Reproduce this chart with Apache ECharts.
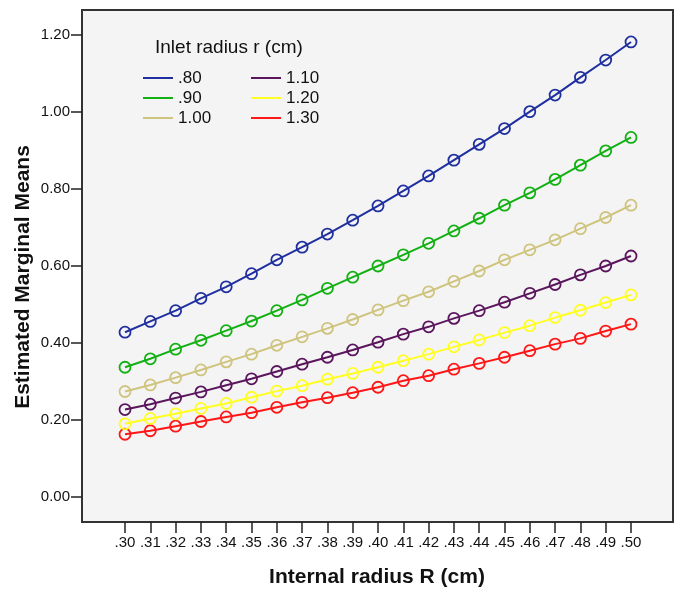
<!DOCTYPE html>
<html>
<head>
<meta charset="utf-8">
<script src="https://cdn.jsdelivr.net/npm/echarts@6/dist/echarts.min.js"></script>
<style>
html,body{margin:0;padding:0;background:#fff;}
#chart{width:678px;height:590px;}
</style>
</head>
<body>
<div id="chart"></div>
<script>
// Internal radius R (cm) categories
var xValues = [0.30,0.31,0.32,0.33,0.34,0.35,0.36,0.37,0.38,0.39,0.40,0.41,0.42,0.43,0.44,0.45,0.46,0.47,0.48,0.49,0.50];
var xTickLabels = ['.30','.31','.32','.33','.34','.35','.36','.37','.38','.39','.40','.41','.42','.43','.44','.45','.46','.47','.48','.49','.50'];
var yTickValues = [0, 0.2, 0.4, 0.6, 0.8, 1.0, 1.2];
var yTickLabels = ['0.00','0.20','0.40','0.60','0.80','1.00','1.20'];

// Inlet radius r (cm) groups
var seriesNames = ['.80', '.90', '1.00', '1.10', '1.20', '1.30'];
var r080 = [0.428,0.456,0.484,0.516,0.546,0.580,0.616,0.649,0.683,0.719,0.756,0.795,0.834,0.875,0.916,0.957,1.001,1.044,1.090,1.135,1.182];
var r090 = [0.337,0.359,0.384,0.407,0.432,0.457,0.484,0.512,0.542,0.571,0.600,0.629,0.659,0.691,0.724,0.758,0.790,0.825,0.862,0.899,0.934];
var r100 = [0.274,0.291,0.310,0.330,0.351,0.371,0.394,0.416,0.438,0.461,0.486,0.510,0.533,0.560,0.587,0.616,0.642,0.668,0.697,0.726,0.758];
var r110 = [0.227,0.241,0.257,0.273,0.290,0.307,0.326,0.345,0.363,0.382,0.402,0.423,0.442,0.464,0.484,0.506,0.529,0.552,0.577,0.600,0.626];
var r120 = [0.190,0.204,0.216,0.230,0.243,0.259,0.275,0.289,0.306,0.321,0.337,0.354,0.371,0.390,0.408,0.427,0.445,0.466,0.485,0.505,0.525];
var r130 = [0.163,0.172,0.184,0.196,0.208,0.219,0.233,0.246,0.258,0.271,0.285,0.302,0.315,0.332,0.347,0.363,0.380,0.397,0.412,0.431,0.449];
var seriesValues = [r080, r090, r100, r110, r120, r130];
var seriesColors = ['#1f2f9f', '#12b012', '#cfc47e', '#5a155d', '#ffff22', '#ff1616'];

var FONT = '"Liberation Sans", Arial, sans-serif';

var chart = echarts.init(document.getElementById('chart'), null, {renderer: 'canvas'});

var series = seriesNames.map(function (name, k) {
  return {
    name: name,
    type: 'line',
    data: xValues.map(function (x, i) { return [x, seriesValues[k][i]]; }),
    symbol: 'circle',
    symbolSize: 11,
    showSymbol: true,
    lineStyle: {color: seriesColors[k], width: 2},
    itemStyle: {color: 'rgba(0,0,0,0)', borderColor: seriesColors[k], borderWidth: 1.8},
    emphasis: {disabled: true},
    animation: false,
    z: 10 - k
  };
});

function legendData(names) {
  return names.map(function (n) {
    var k = seriesNames.indexOf(n);
    return {name: n, itemStyle: {color: seriesColors[k], borderWidth: 0}};
  });
}

var legendCommon = {
  orient: 'vertical',
  top: 68,
  padding: 0,
  itemGap: 0,
  itemWidth: 30,
  itemHeight: 2,
  icon: 'rect',
  selectedMode: false,
  itemStyle: {borderWidth: 0},
  textStyle: {fontFamily: FONT, fontSize: 17, color: '#111', lineHeight: 20, padding: [0, 0, 0, 0]}
};

var option = {
  backgroundColor: '#ffffff',
  animation: false,
  grid: {
    left: 82, right: 5, top: 10, bottom: 68,
    show: true,
    backgroundColor: '#f4f4f4',
    borderColor: '#333333',
    borderWidth: 2,
    containLabel: false
  },
  legend: [
    Object.assign({}, legendCommon, {left: 143, data: legendData(['.80', '.90', '1.00'])}),
    Object.assign({}, legendCommon, {left: 251, data: legendData(['1.10', '1.20', '1.30'])})
  ],
  xAxis: {
    type: 'value',
    min: 0.283,
    max: 0.5166,
    axisLine: {onZero: false, lineStyle: {color: '#333333', width: 2}},
    axisTick: {
      show: true, length: 11, inside: false,
      customValues: xValues,
      lineStyle: {color: '#222', width: 1.5}
    },
    axisLabel: {
      customValues: xValues,
      margin: 13,
      fontFamily: FONT, fontSize: 15, color: '#111',
      formatter: function (v) {
        var i = xValues.findIndex(function (x) { return Math.abs(x - v) < 1e-6; });
        return i >= 0 ? xTickLabels[i] : '';
      }
    },
    splitLine: {show: false}
  },
  yAxis: {
    type: 'value',
    min: -0.065,
    max: 1.265,
    axisLine: {show: true, onZero: false, lineStyle: {color: '#333333', width: 2}},
    axisTick: {
      show: true, length: 11, inside: false,
      customValues: yTickValues,
      lineStyle: {color: '#222', width: 1.5}
    },
    axisLabel: {
      customValues: yTickValues,
      margin: 12,
      fontFamily: FONT, fontSize: 15, color: '#111',
      formatter: function (v) {
        var i = yTickValues.findIndex(function (y) { return Math.abs(y - v) < 1e-6; });
        return i >= 0 ? yTickLabels[i] : '';
      }
    },
    splitLine: {show: false}
  },
  graphic: [
    {
      type: 'text', left: 155, top: 38, silent: true,
      style: {text: 'Inlet radius r (cm)', fontFamily: FONT, fontSize: 19, fill: '#111'}
    },
    {
      type: 'text', x: 377, y: 577, silent: true,
      style: {text: 'Internal radius R (cm)', fontFamily: FONT, fontSize: 21, fontWeight: 'bold', fill: '#111', align: 'center', verticalAlign: 'middle'}
    },
    {
      type: 'text', x: 23, y: 277, rotation: Math.PI / 2, silent: true,
      style: {text: 'Estimated Marginal Means', fontFamily: FONT, fontSize: 21, fontWeight: 'bold', fill: '#111', align: 'center', verticalAlign: 'middle'}
    }
  ],
  series: series
};

chart.setOption(option);
</script>
</body>
</html>
